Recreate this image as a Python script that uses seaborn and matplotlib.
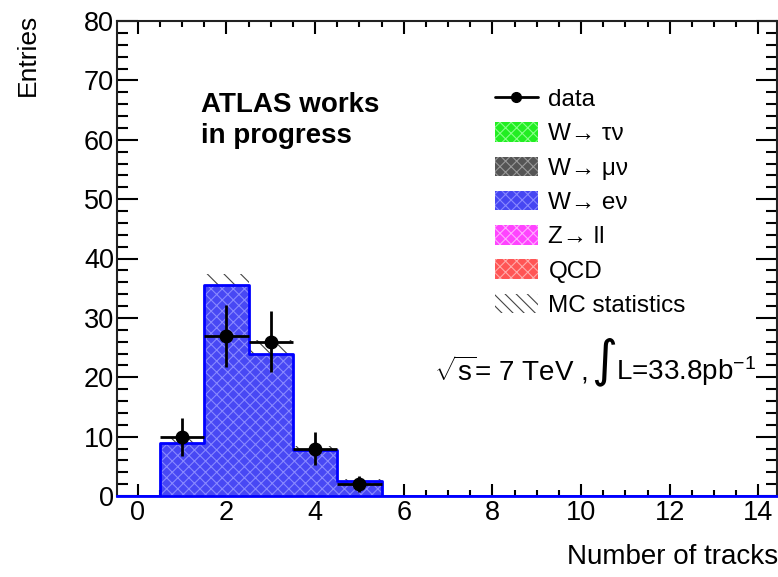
import numpy as np
import pandas as pd
import seaborn as sns
import matplotlib
matplotlib.use("Agg")
import matplotlib.pyplot as plt
from matplotlib.patches import Patch
from matplotlib.lines import Line2D
from matplotlib.ticker import MultipleLocator

# ---- data ----
bin_centers = [1, 2, 3, 4, 5]
mc_wenu = [9.0, 35.6, 24.0, 7.7, 2.5]
mc_stat_err = [0.7, 1.8, 2.3, 0.7, 0.4]
data_counts = [10, 27, 26, 8, 2]
data_err = [3.2, 5.2, 5.1, 2.8, 1.4]
legend_labels = ["data", "W\u2192 \u03c4\u03bd", "W\u2192 \u03bc\u03bd",
                 "W\u2192 e\u03bd", "Z\u2192 ll", "QCD", "MC statistics"]

sns.set_style("ticks")
plt.rcParams['font.family'] = ['Liberation Sans', 'DejaVu Sans']
plt.rcParams['mathtext.fontset'] = 'custom'
plt.rcParams['mathtext.rm'] = 'Liberation Sans'
plt.rcParams['mathtext.it'] = 'Liberation Sans'
plt.rcParams['hatch.linewidth'] = 0.8
plt.rcParams['text.color'] = 'black'
plt.rcParams['xtick.color'] = 'black'
plt.rcParams['ytick.color'] = 'black'
plt.rcParams['xtick.labelcolor'] = 'black'
plt.rcParams['ytick.labelcolor'] = 'black'

W, H = 778, 577
fig = plt.figure(figsize=(W / 100, H / 100), dpi=100)
L, R, T, B = 117, 777, 21, 496
ax = fig.add_axes([L / W, 1 - B / H, (R - L) / W, (B - T) / H])

df = pd.DataFrame({"x": bin_centers, "w": mc_wenu})

# MC statistics band (hatched)
for c, v, e in zip(bin_centers, mc_wenu, mc_stat_err):
    ax.fill_between([c - 0.5, c + 0.5], [v - e] * 2, [v + e] * 2,
                    facecolor="none", edgecolor="#444444", hatch="\\\\", linewidth=0, zorder=1)
n_before = len(ax.collections)

sns.histplot(data=df, x="x", weights="w", binwidth=1, binrange=(-0.5, 14.5), element="step",
             fill=True, color="#4646f2", alpha=1.0, linewidth=0, ax=ax, zorder=2)
for p in list(ax.collections)[n_before:]:
    p.set_hatch("xxx")
    p.set_facecolor("#4848f4")
    p.set_edgecolor("#8888ff")
    p.set_linewidth(0)
sns.histplot(data=df, x="x", weights="w", binwidth=1, binrange=(-0.5, 14.5), element="step",
             fill=False, color="#0000ff", linewidth=2, ax=ax, zorder=3)

# data points
ax.errorbar(bin_centers, data_counts, yerr=data_err, xerr=0.5, fmt="o", color="black",
            markersize=9, elinewidth=2, capsize=0, zorder=5)

ax.set_xlim(-0.47, 14.42)
ax.set_ylim(0, 80)
ax.set_xlabel("")
ax.set_ylabel("")
ax.xaxis.set_major_locator(MultipleLocator(2))
ax.xaxis.set_minor_locator(MultipleLocator(0.5))
ax.yaxis.set_major_locator(MultipleLocator(10))
ax.yaxis.set_minor_locator(MultipleLocator(2))
ax.tick_params(axis="x", which="major", direction="in", length=9, width=1.5, top=True, labelsize=19.5, pad=3)
ax.tick_params(axis="x", which="minor", direction="in", length=4.5, width=1.5, top=True)
ax.tick_params(axis="y", which="major", direction="in", length=15, width=1.5, right=True, labelsize=19.5, pad=2)
ax.tick_params(axis="y", which="minor", direction="in", length=8, width=1.5, right=True)
for s in ax.spines.values():
    s.set_visible(True)
    s.set_linewidth(1.5)
    s.set_color("#222222")
ax.spines["bottom"].set_color("#0000ff")
ax.spines["bottom"].set_linewidth(2)

fig.text(28 / W, 1 - 14 / H, "Entries", rotation=90, ha="center", va="top", fontsize=19)
fig.text(778 / W, 1 - 557 / H, "Number of tracks", ha="right", va="center", fontsize=20)

fig.text(201 / W, 1 - 92 / H, "ATLAS works\nin progress", fontsize=20, fontweight="bold",
         ha="left", va="top", linespacing=1.25)

handles = [
    Line2D([0], [0], color="black", marker="o", markersize=7, linewidth=2),
    Patch(facecolor="#22ee22", edgecolor="#88ff88", hatch="xxx", linewidth=0),
    Patch(facecolor="#555555", edgecolor="#999999", hatch="xxx", linewidth=0),
    Patch(facecolor="#4646f2", edgecolor="#8888ff", hatch="xxx", linewidth=0),
    Patch(facecolor="#ff44ff", edgecolor="#ffaaff", hatch="xxx", linewidth=0),
    Patch(facecolor="#ff5555", edgecolor="#ffaaaa", hatch="xxx", linewidth=0),
    Patch(facecolor="white", edgecolor="#444444", hatch="\\\\\\", linewidth=0),
]
leg = ax.legend(handles, legend_labels, loc="upper left", bbox_to_anchor=(495 / W, 1 - 88 / H),
                bbox_transform=fig.transFigure, frameon=False, fontsize=17.5, handlelength=1.75,
                handleheight=0.85, labelspacing=0.46, handletextpad=0.45, borderpad=0,
                borderaxespad=0)

fig.text(588 / W, 1 - 380 / H, r"$\sqrt{\mathrm{s}}$= 7 TeV ,", fontsize=20, ha="right", va="baseline")
fig.text(604 / W, 1 - 362 / H, "\u222b", fontsize=36, ha="center", va="center", family="DejaVu Sans")
fig.text(616 / W, 1 - 380 / H, r"L=33.8pb$^{-1}$", fontsize=20, ha="left", va="baseline")

fig.savefig("out.png", dpi=100)
